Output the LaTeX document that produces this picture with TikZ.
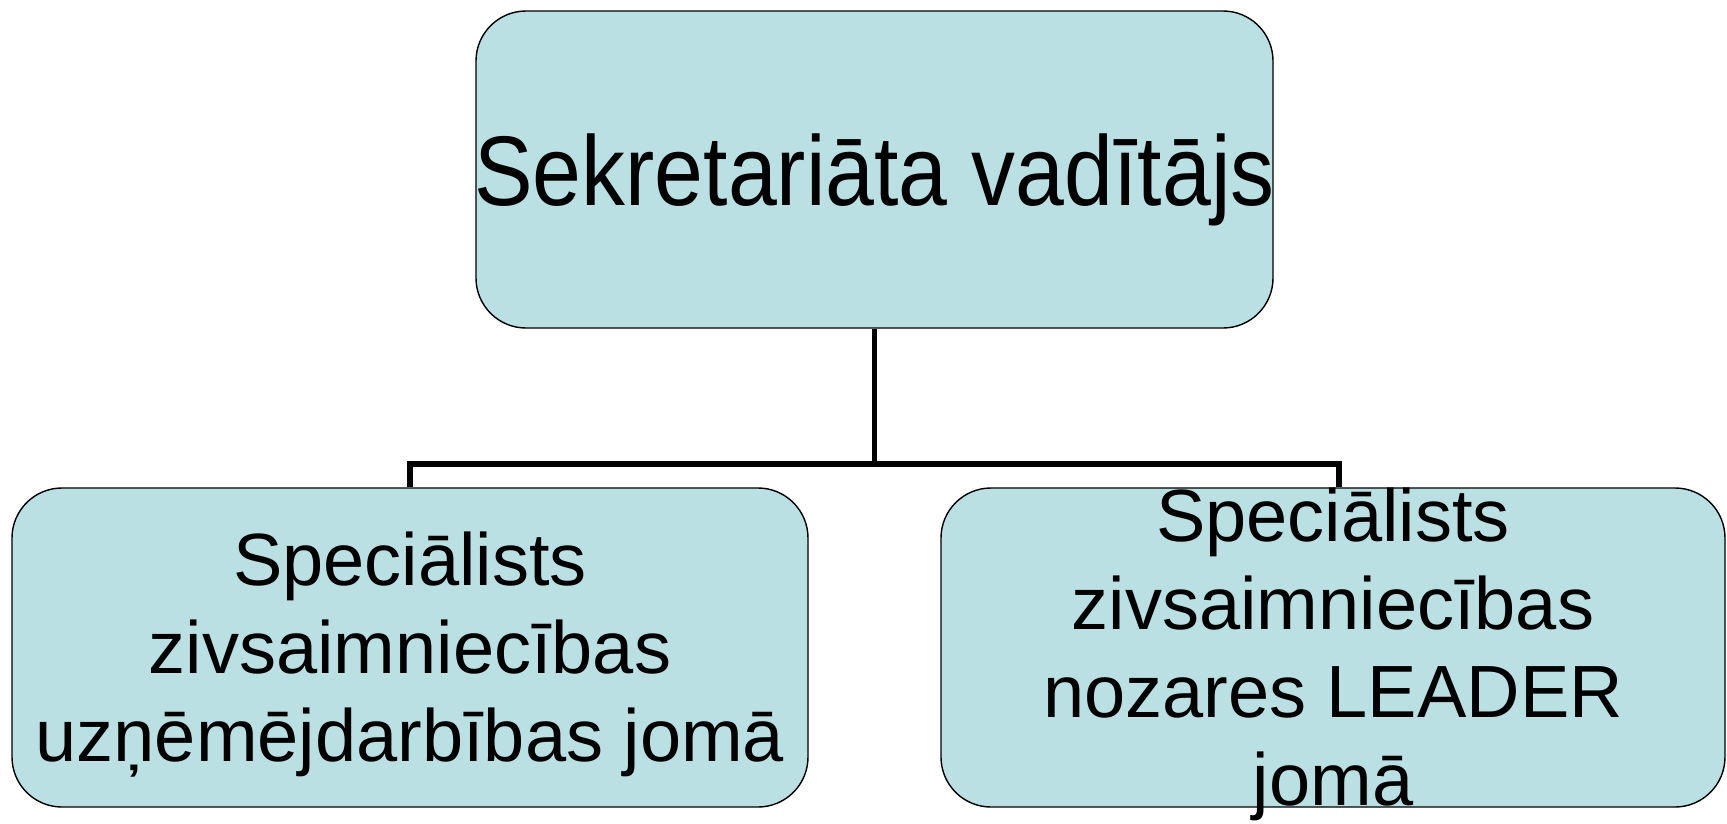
\documentclass[tikz,border=0pt]{standalone}
\usepackage{fontspec}
\setmainfont{Liberation Sans}
\newfontfamily\narrowfont[FakeStretch=0.887]{Liberation Sans}
\definecolor{boxfill}{RGB}{187,224,227}
\begin{document}
\begin{tikzpicture}[x=1pt,y=1pt,
  orgbox/.style={draw=black,line width=1.4pt,fill=boxfill,rounded corners=50pt,inner sep=0pt},
  conn/.style={draw=black,line width=5.5pt},
  bigtxt/.style={inner sep=0pt,align=center,font=\narrowfont\fontsize{99}{120}\selectfont},
  smalltxt/.style={inner sep=0pt,align=center,font=\fontsize{74}{88}\selectfont}]
\useasboundingbox (0,0) rectangle (1727,-823);
\node[orgbox,minimum width=797pt,minimum height=317pt] (top) at (874.5,-169.5) {};
\node[orgbox,minimum width=796pt,minimum height=319pt] (left) at (410,-647.5) {};
\node[orgbox,minimum width=784pt,minimum height=319pt] (right) at (1333,-647.5) {};
\coordinate (bus) at (874.5,-464);
\draw[conn] (top.south) -- (bus);
\draw[conn] (left.north) |- (bus) -| ([xshift=6pt]right.north);
\node[bigtxt] (toptext) at ([yshift=-10pt]top.center) {Sekretariāta vadītājs};
\node[smalltxt] (lefttext) at ([yshift=-7pt]left.center) {Speciālists\\zivsaimniecības\\uzņēmējdarbības jomā};
\node[smalltxt] (righttext) at ([yshift=-7pt]right.center) {Speciālists\\zivsaimniecības\\nozares LEADER\\jomā};
\end{tikzpicture}
\end{document}
